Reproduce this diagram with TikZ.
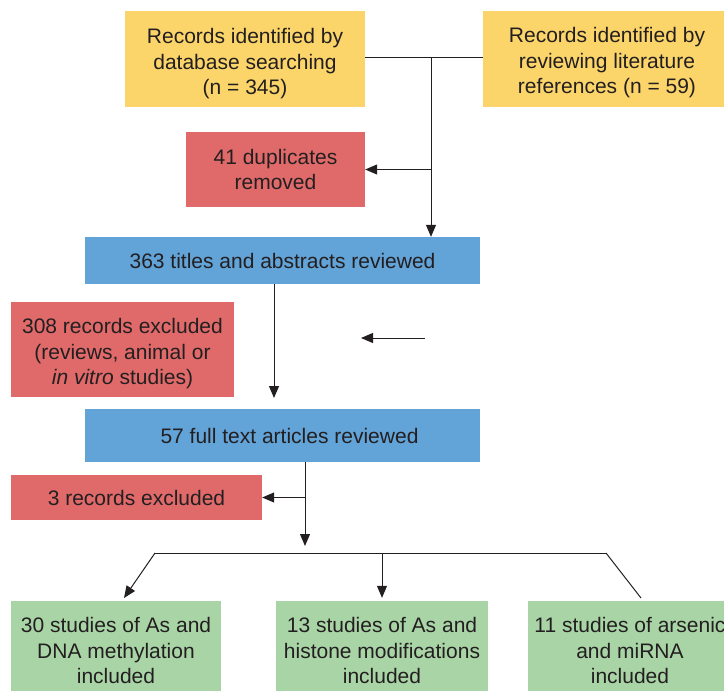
\documentclass[tikz,border=0pt]{standalone}
\usepackage{fontspec}
\setmainfont{Liberation Sans}
\usetikzlibrary{arrows.meta,calc}
\definecolor{recyellow}{HTML}{FBD56A}
\definecolor{recred}{HTML}{E06A6A}
\definecolor{recblue}{HTML}{62A3D8}
\definecolor{recgreen}{HTML}{A9D5A6}
\definecolor{txtgray}{HTML}{231F20}
\tikzset{
  box/.style={inner sep=0pt, align=center, text=txtgray, font=\fontsize{21}{25.5}\selectfont},
  ybox/.style={box, fill=recyellow},
  rbox/.style={box, fill=recred},
  bbox/.style={box, fill=recblue},
  gbox/.style={box, fill=recgreen},
  link/.style={line width=1pt, draw=txtgray},
  arrow/.style={link, -{Triangle[length=12pt,width=10pt]}}
}
\newcommand{\lowtext}[1]{\rule{0pt}{#1}}

\begin{document}
\begin{tikzpicture}[x=1pt,y=-1pt]
  %%%%% START %%%%%
  \useasboundingbox (0,0) rectangle (724,691);

  \node[ybox, minimum width=240, minimum height=96] (dbs) at (245,59)
    {\lowtext{25pt}Records identified by\\database searching\\(n = 345)};
  \node[ybox, minimum width=248, minimum height=96] (lit) at (607,59)
    {\lowtext{23pt}Records identified by\\reviewing literature\\references (n = 59)};

  \node[rbox, minimum width=179, minimum height=75] (dup) at (275.5,169.5)
    {41 duplicates\\removed};

  \node[bbox, minimum width=395, minimum height=47] (tia) at (282.5,260.5)
    {363 titles and abstracts reviewed};

  \node[rbox, minimum width=223, minimum height=95] (ex308) at (122.5,349.5)
    {\lowtext{24pt}308 records excluded\\(reviews, animal or\\\textit{in vitro} studies)};

  \node[bbox, minimum width=395, minimum height=53] (fta) at (282.5,435.5)
    {\hspace*{14pt}57 full text articles reviewed};

  \node[rbox, minimum width=251, minimum height=45] (ex3) at (136.5,497.5)
    {3 records excluded};

  \node[gbox, minimum width=210, minimum height=99] (g1) at (116,650.5)
    {30 studies of As and\\DNA methylation\\included};
  \node[gbox, minimum width=212, minimum height=99] (g2) at (382,650.5)
    {13 studies of As and\\histone modifications\\included};
  \node[gbox, minimum width=204, minimum height=99] (g3) at (630,650.5)
    {11 studies of arsenic\\and miRNA\\included};

  % joins and arrows
  \coordinate (j1) at (431,57);
  \draw[link] (dbs.east |- j1) -- (lit.west |- j1);
  \draw[arrow] (j1) -- (j1 |- tia.north);
  \draw[arrow] (j1 |- dup.east) -- (dup.east);

  \coordinate (a1) at (274,398);
  \draw[arrow] (tia.south -| a1) -- (a1);

  \coordinate (s1) at (425,338);
  \coordinate (s2) at (361,338);
  \draw[arrow] (s1) -- (s2);

  \coordinate (a2) at (305,546);
  \draw[arrow] (fta.south -| a2) -- (a2);
  \draw[arrow] (a2 |- ex3.east) -- (ex3.east);

  \coordinate (hl) at (155,553);
  \coordinate (hr) at (606,553);
  \coordinate (t1) at (124,598);
  \coordinate (t3) at (641,598);
  \draw[link] (hl) -- (hr);
  \draw[arrow] (hl) -- (t1);
  \draw[arrow] (hl -| g2.north) -- ($(g2.north)+(0,-3)$);
  \draw[link] (hr) -- (t3);
  %%%%% END %%%%%
\end{tikzpicture}
\end{document}
